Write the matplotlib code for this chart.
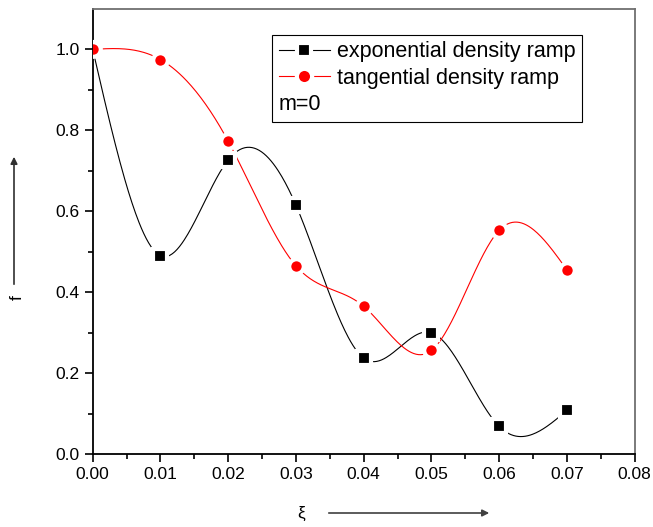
import numpy as np
import matplotlib
matplotlib.use('Agg')
import matplotlib.pyplot as plt

plt.rcParams['font.family'] = ['Liberation Sans', 'DejaVu Sans']

# data
xi = [0.00, 0.01, 0.02, 0.03, 0.04, 0.05, 0.06, 0.07]
f_exp = [1.00, 0.490, 0.727, 0.615, 0.237, 0.300, 0.068, 0.108]
f_tan = [1.00, 0.975, 0.773, 0.465, 0.365, 0.256, 0.553, 0.455]


def natural_spline(x, y, n=400):
    # natural cubic spline through the points, for the smooth connecting line
    x = np.asarray(x, float)
    y = np.asarray(y, float)
    k = len(x)
    h = np.diff(x)
    A = np.zeros((k, k))
    b = np.zeros(k)
    A[0, 0] = 1
    A[-1, -1] = 1
    for i in range(1, k - 1):
        A[i, i - 1] = h[i - 1]
        A[i, i] = 2 * (h[i - 1] + h[i])
        A[i, i + 1] = h[i]
        b[i] = 6 * ((y[i + 1] - y[i]) / h[i] - (y[i] - y[i - 1]) / h[i - 1])
    M = np.linalg.solve(A, b)
    xs = np.linspace(x[0], x[-1], n)
    idx = np.clip(np.searchsorted(x, xs) - 1, 0, k - 2)
    x0, x1 = x[idx], x[idx + 1]
    hh = x1 - x0
    ys = (M[idx] * (x1 - xs) ** 3 / (6 * hh) + M[idx + 1] * (xs - x0) ** 3 / (6 * hh)
          + (y[idx] / hh - M[idx] * hh / 6) * (x1 - xs)
          + (y[idx + 1] / hh - M[idx + 1] * hh / 6) * (xs - x0))
    return xs, ys


fig = plt.figure(figsize=(6.53, 5.27), dpi=100)
ax = fig.add_axes([0.142, 0.1385, 0.830, 0.8445])

xs, ys = natural_spline(xi, f_exp)
ax.plot(xs, ys, color='black', lw=0.8, zorder=2)
xs, ys = natural_spline(xi, f_tan)
ax.plot(xs, ys, color='red', lw=0.8, zorder=2)

ax.plot(xi, f_exp, 's', color='black', ms=9.4, mec='white', mew=3, zorder=3)
ax.plot(xi, f_tan, 'o', color='red', ms=10.5, mec='white', mew=3, zorder=3)

# legend proxies
fs_leg = 15.5
ax.plot([], [], '-s', color='black', lw=0.8, ms=9.4, mec='white', mew=3,
        label='exponential density ramp')
ax.plot([], [], '-o', color='red', lw=0.8, ms=11, mec='white', mew=3,
        label='tangential density ramp')
ax.plot([], [], ' ', label='m=0')
leg = ax.legend(loc='upper left', bbox_to_anchor=(0.331, 0.9416), fontsize=fs_leg,
                frameon=True, fancybox=False, framealpha=1, borderpad=0.3,
                labelspacing=0.25, handlelength=2.4, handletextpad=0.3,
                borderaxespad=0)
leg.get_frame().set_edgecolor('black')
leg.get_frame().set_linewidth(0.8)
# push the m=0 text under the handles
shift = (2.4 + 0.3) * fs_leg * 100 / 72
leg.get_texts()[2].set_position((-shift, 0))

ax.set_xlim(0, 0.08)
ax.set_ylim(0, 1.1)
ax.set_xticks(np.arange(0, 0.081, 0.01))
ax.set_xticklabels(['%.2f' % v for v in np.arange(0, 0.081, 0.01)])
ax.set_xticks(np.arange(0.005, 0.08, 0.01), minor=True)
ax.set_yticks(np.arange(0, 1.01, 0.2))
ax.set_yticklabels(['%.1f' % v for v in np.arange(0, 1.01, 0.2)])
ax.set_yticks(np.arange(0.1, 1.1, 0.2), minor=True)
ax.tick_params(which='major', direction='out', length=6, width=1.2, labelsize=12.5)
ax.tick_params(which='minor', direction='out', length=3.5, width=1.2)
for s in ['left', 'bottom']:
    ax.spines[s].set_linewidth(1.3)
for s in ['top', 'right']:
    ax.spines[s].set_color('#707070')
    ax.spines[s].set_linewidth(1.3)

# axis labels with arrows
fig.text(301 / 653, 1 - 513 / 527, 'ξ', fontsize=12.5, ha='center', va='center')
fig.add_artist(matplotlib.patches.FancyArrowPatch(
    (326 / 653, 1 - 513 / 527), (492 / 653, 1 - 513 / 527),
    transform=fig.transFigure, arrowstyle='-|>', mutation_scale=10,
    color='#404040', lw=1.2))
fig.text(17 / 653, 1 - 298 / 527, 'f', fontsize=12.5, ha='center', va='center',
         rotation=90)
fig.add_artist(matplotlib.patches.FancyArrowPatch(
    (14 / 653, 1 - 287 / 527), (14 / 653, 1 - 154 / 527),
    transform=fig.transFigure, arrowstyle='-|>', mutation_scale=10,
    color='#303030', lw=1.2))

fig.savefig('out.png', dpi=100)
